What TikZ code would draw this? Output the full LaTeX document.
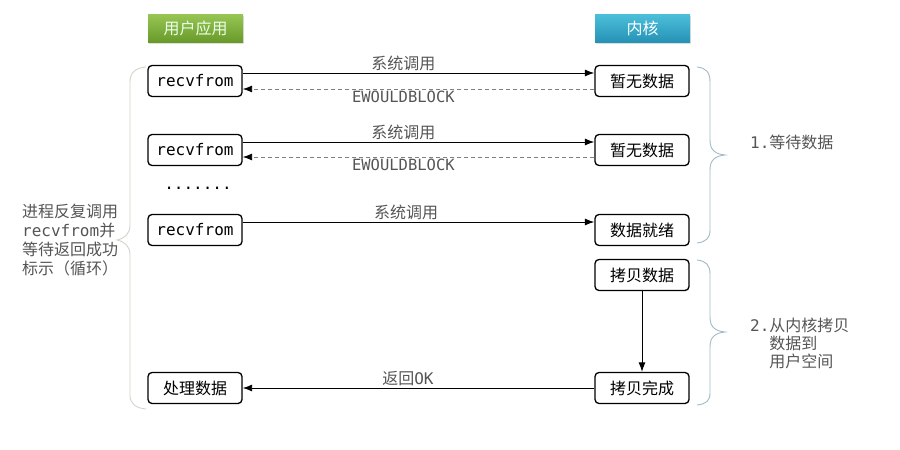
\documentclass[tikz,border=0pt]{standalone}
\usepackage{fontspec}
\setmainfont{Noto Sans CJK SC}
\setmonofont{DejaVu Sans Mono}
\usetikzlibrary{arrows.meta,shadows}

\definecolor{hdrgreenTop}{RGB}{152,198,84}
\definecolor{hdrgreenBot}{RGB}{104,154,42}
\definecolor{hdrblueTop}{RGB}{76,192,218}
\definecolor{hdrblueBot}{RGB}{38,146,182}
\definecolor{labelgray}{RGB}{85,85,85}
\definecolor{bracegray}{RGB}{212,210,200}
\definecolor{braceblue}{RGB}{160,186,198}

\begin{document}
\begin{tikzpicture}[x=1pt,y=-1pt,
  txt/.style={font=\fontsize{16}{19}\selectfont},
  stepbox/.style={txt, draw=black, line width=1.3pt, rounded corners=4pt,
    fill=white, minimum width=94pt, minimum height=31pt, inner sep=0pt},
  header/.style={txt, minimum width=95pt, minimum height=28pt, inner sep=0pt,
    drop shadow={opacity=0.25, shadow xshift=1pt, shadow yshift=-1.5pt}},
  tip/.style={-{Latex[length=9.5pt,width=7pt,black]}},
  call/.style={tip, line width=0.9pt, draw=black},
  reply/.style={tip, line width=0.9pt, draw=gray, dash pattern=on 4pt off 3pt},
  lbl/.style={txt, text=labelgray, inner sep=1.5pt},
  monolbl/.style={lbl, font=\fontsize{15.5}{19}\ttfamily},
  brace/.style={line width=0.9pt}
]
\useasboundingbox (0,0) rectangle (900,450);

% column headers
\node[header, top color=hdrgreenTop, bottom color=hdrgreenBot, text=white!92!green]
  (user) at (195.5,28) {用户应用};
\node[header, top color=hdrblueTop, bottom color=hdrblueBot, text=white]
  (kernel) at (642.5,28) {内核};

% user side
\node[stepbox] (u1) at (195,81)  {\ttfamily recvfrom};
\node[stepbox] (u2) at (195,150) {\ttfamily recvfrom};
\node[txt, font=\fontsize{16}{19}\ttfamily] (dots) at (198,188) {.......};
\node[stepbox] (u3) at (195,230) {\ttfamily recvfrom};
\node[stepbox] (u4) at (195,388) {处理数据};

% kernel side
\node[stepbox] (k1) at (642,81)  {暂无数据};
\node[stepbox] (k2) at (642,150) {暂无数据};
\node[stepbox] (k3) at (642,230) {数据就绪};
\node[stepbox] (k4) at (642,275) {拷贝数据};
\node[stepbox] (k5) at (642,388) {拷贝完成};

% calls and replies
\draw[call] ([yshift=8pt]u1.east) -- node[pos=0.457, lbl, above] {系统调用} ([yshift=8pt]k1.west);
\draw[reply] ([yshift=-8pt]k1.west) -- node[pos=0.543, monolbl, below] {EWOULDBLOCK} ([yshift=-8pt]u1.east);
\draw[call] ([yshift=8pt]u2.east) -- node[pos=0.457, lbl, above] {系统调用} ([yshift=8pt]k2.west);
\draw[reply] ([yshift=-7pt]k2.west) -- node[pos=0.543, monolbl, below] {EWOULDBLOCK} ([yshift=-7pt]u2.east);
\draw[call] ([yshift=8pt]u3.east) -- node[pos=0.465, lbl, above] {系统调用} ([yshift=8pt]k3.west);
\draw[call] (k4.south) -- (k5.north);
\draw[call] (k5.west) -- node[pos=0.53, lbl, above] {返回{\ttfamily OK}} (u4.east);

% left brace and note
\draw[brace, draw=bracegray]
  (146,67) .. controls (136,68) and (130,72) .. (130,82) -- (130,225)
  .. controls (130,234) and (125,238) .. (117,240)
  .. controls (125,242) and (130,246) .. (130,255) -- (130,395)
  .. controls (130,404) and (136,408) .. (146,409);
\node[txt, text=labelgray, align=left, anchor=west, inner sep=0pt] (note) at (22,240)
  {进程反复调用\\{\ttfamily recvfrom}并\\等待返回成功\\标示（循环）};

% right braces and notes
\draw[brace, draw=braceblue]
  (697,67) .. controls (706,68) and (710,72) .. (710,82) -- (710,140)
  .. controls (710,150) and (715,154) .. (725,155)
  .. controls (715,156) and (710,160) .. (710,170) -- (710,230)
  .. controls (710,238) and (706,242) .. (697,243);
\node[txt, text=labelgray, anchor=west, inner sep=0pt] (wait) at (750,142)
  {{\ttfamily 1.}等待数据};

\draw[brace, draw=braceblue]
  (697,260) .. controls (706,261) and (710,265) .. (710,274) -- (710,317)
  .. controls (710,327) and (715,331) .. (725,332)
  .. controls (715,333) and (710,337) .. (710,347) -- (710,393)
  .. controls (710,401) and (706,404) .. (697,405);
\node[txt, text=labelgray, align=left, anchor=west, inner sep=0pt, font=\fontsize{16}{18}\selectfont] (copy) at (750,343)
  {{\ttfamily 2.}从内核拷贝\\\phantom{\ttfamily 2.}数据到\\\phantom{\ttfamily 2.}用户空间};
\end{tikzpicture}
\end{document}
